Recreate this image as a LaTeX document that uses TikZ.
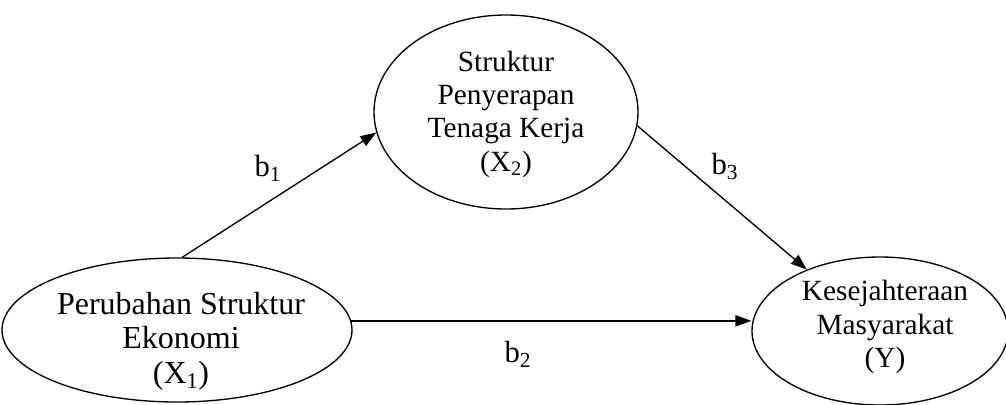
\documentclass[tikz,border=0pt]{standalone}
\usepackage{fontspec}
\setmainfont{Liberation Serif}
\usetikzlibrary{shapes.geometric,arrows.meta}
\begin{document}
\begin{tikzpicture}[x=0.75pt,y=-0.75pt,
  oval/.style={draw, ellipse, inner sep=0pt, line width=1pt},
  txt/.style={font=\fontsize{22}{25}\selectfont, align=center, inner sep=0pt},
  bigtxt/.style={font=\fontsize{24}{26}\selectfont, align=center, inner sep=0pt},
  coef/.style={font=\fontsize{23}{25}\selectfont, inner sep=0pt},
  link/.style={line width=1pt, -{Triangle[length=12pt,width=8.5pt]}}]
\useasboundingbox (0,0) rectangle (1006,404);

% variables
\node[oval, minimum width=262.5pt, minimum height=108pt] (x1) at (177,330) {};
\node[oval, minimum width=198pt, minimum height=145.5pt] (x2) at (506,112) {};
\node[oval, minimum width=192pt, minimum height=111pt] (y) at (880,331) {};

\node[bigtxt] (x1t) at (181,341) {Perubahan Struktur\\Ekonomi\\(X\textsubscript{1})};
\node[txt] (x2t) at (506,114) {Struktur\\Penyerapan\\Tenaga Kerja\\(X\textsubscript{2})};
\node[txt] (yt) at (885,327) {Kesejahteraan\\Masyarakat\\(Y)};

% paths
\draw[link] (x1.86) -- (x2.189);
\draw[link] (x2.-6.5) -- (y.140);
\draw[link] (x1.3) -- (x1.3 -| y.west);

% path coefficients
\node[coef] (b1) at (268,168) {b\textsubscript{1}};
\node[coef] (b3) at (725,166) {b\textsubscript{3}};
\node[coef] (b2) at (518,354) {b\textsubscript{2}};
\end{tikzpicture}
\end{document}
